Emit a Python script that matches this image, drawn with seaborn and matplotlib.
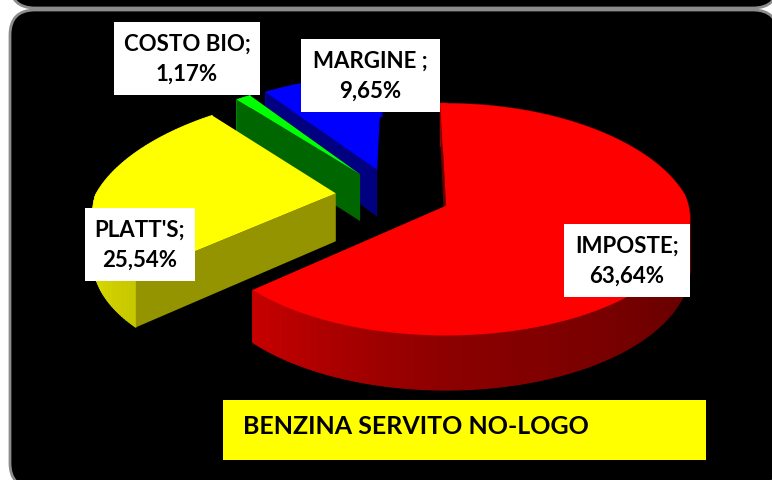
import numpy as np
import matplotlib
matplotlib.use("Agg")
import matplotlib.pyplot as plt
from matplotlib.patches import FancyBboxPatch, Rectangle
from matplotlib.path import Path
from matplotlib.transforms import Affine2D, Transform
import seaborn as sns

# ---- data ----
categories = ["IMPOSTE;", "PLATT'S;", "COSTO BIO;", "MARGINE ;"]
values = [63.64, 25.54, 1.17, 9.65]
colors = ["#ff0000", "#ffff00", "#00ff00", "#0000ff"]
title = "BENZINA SERVITO NO-LOGO"

# ---- geometry of the 3D view (pixels) ----
W, H = 772, 480
CX, CY = 393, 195
VX = 447
A, B = 240, 113
KX_FAR, KX_NEAR = 0.18, 0.11
KY_FAR, KY_NEAR = 0.13, 0.11
DEPTH = 48
EXPLODE = 0.24
START = -1.6  # degrees clockwise from twelve o'clock

sns.set_theme(style="white")
plt.rcParams["font.family"] = ["Lato", "DejaVu Sans"]


def project(u, v, z=0.0):
    u, v = np.asarray(u, float), np.asarray(v, float)
    sx = 1 / (1 + np.where(v > 0, KX_FAR, KX_NEAR) * v)
    sy = 1 / (1 + np.where(v > 0, KY_FAR, KY_NEAR) * v)
    x = VX + (A * u + CX - VX) * sx
    y = (H - CY) + B * v * sy - z * DEPTH * sy
    return x, y


class Tilt(Transform):
    input_dims = output_dims = 2
    has_inverse = False
    is_separable = False

    def transform_non_affine(self, xy):
        xy = np.asarray(xy, float)
        x, y = project(xy[:, 0], xy[:, 1])
        return np.column_stack([x, y])

    def transform_path_non_affine(self, path):
        big = path.transformed(Affine2D().scale(2000))
        flat = big.to_polygons(closed_only=False)[0] / 2000
        return Path(self.transform_non_affine(flat))


fig = plt.figure(figsize=(W / 100, H / 100), dpi=100, facecolor="white")
ax = fig.add_axes([0, 0, 1, 1])

# frames behind the chart
ax.add_patch(FancyBboxPatch((10, H - 8), 768, 60, boxstyle="round,pad=0,rounding_size=25",
                            fc="black", ec="#8c8c8c", lw=2, zorder=0))
ax.add_patch(FancyBboxPatch((10, -8), 768, H - 2, boxstyle="round,pad=0,rounding_size=25",
                            fc="black", ec="#8c8c8c", lw=2, zorder=0.5))

frac = np.array(values) / sum(values)
theta0 = START + 360 * np.concatenate([[0], np.cumsum(frac)[:-1]])
theta1 = START + 360 * np.cumsum(frac)


def scale(col, f):
    r, g, b = matplotlib.colors.to_rgb(col)
    return r * f, g * f, b * f


def arc_shade(t):
    return np.interp((t + 360) % 360, [90, 180, 227, 275], [0.36, 0.55, 0.78, 0.92])


cut_shade = [0.40, 0.58, 0.40, 0.50]
draw_order = [3, 2, 1, 0]

tilt = Tilt()
wedges, _ = ax.pie(values, colors=colors, startangle=90 - START, counterclock=False,
                   explode=[EXPLODE] * len(values), radius=1, center=(0, 0), frame=False,
                   wedgeprops=dict(linewidth=0))
for z, i in enumerate(draw_order):
    mid = np.radians((theta0[i] + theta1[i]) / 2)
    du, dv = EXPLODE * np.sin(mid), EXPLODE * np.cos(mid)
    base = 2 + z
    # curved outer wall, one facet per degree
    steps = np.linspace(theta0[i], theta1[i], max(3, int(theta1[i] - theta0[i]) + 2))
    for a, b in zip(steps[:-1], steps[1:]):
        ang = np.radians([a, b])
        eu, ev = du + np.sin(ang), dv + np.cos(ang)
        x0, y0 = project(eu, ev)
        x1, y1 = project(eu, ev, 1.0)
        col = scale(colors[i], arc_shade((a + b) / 2))
        ax.fill(np.r_[x0, x1[::-1]], np.r_[y0, y1[::-1]], color=col, lw=0.8, zorder=base)
    # straight cut face at the leading edge, over the wall
    t = np.radians(theta0[i])
    eu, ev = np.array([du, du + np.sin(t)]), np.array([dv, dv + np.cos(t)])
    x0, y0 = project(eu, ev)
    x1, y1 = project(eu, ev, 1.0)
    ax.fill(np.r_[x0, x1[::-1]], np.r_[y0, y1[::-1]], color=scale(colors[i], cut_shade[i]),
            lw=0, zorder=base + 0.2)
    wedges[i].set_transform(tilt + ax.transData)
    wedges[i].set_zorder(base + 0.5)
    wedges[i].set_clip_on(False)

ax.set_aspect("auto")
ax.set_xlim(0, W)
ax.set_ylim(0, H)
ax.set_axis_off()

# label boxes (x0, x1, y0, y1 in pixels from the top-left corner)
boxes = [(564, 690, 224, 297), (85, 195, 208, 281), (114, 260, 22, 95), (301, 440, 39, 112)]
for name, v, (x0, x1, y0, y1) in zip(categories, values, boxes):
    ax.add_patch(Rectangle((x0, H - y1), x1 - x0, y1 - y0, fc="white", ec="none", zorder=20))
    txt = name + "\n" + f"{v:.2f}".replace(".", ",") + "%"
    ax.text((x0 + x1) / 2, H - (y0 + y1) / 2 - 1, txt, ha="center", va="center", fontsize=16,
            color="black", linespacing=1.55, fontweight="bold", zorder=21)

ax.add_patch(Rectangle((223, H - 460), 483, 60, fc="#ffff00", ec="none", zorder=20))
ax.text(243, H - 427, title, ha="left", va="center", fontsize=18, fontweight="bold",
        color="black", zorder=21)

fig.savefig("out.png", dpi=100, facecolor="white")
